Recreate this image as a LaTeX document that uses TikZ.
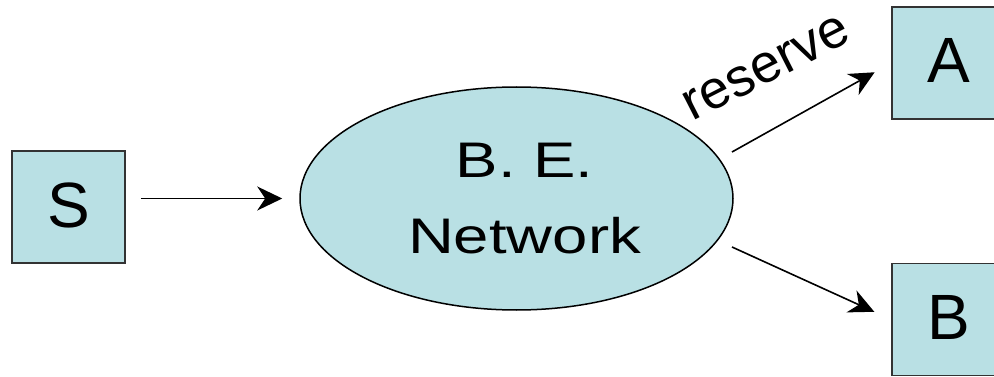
\documentclass[tikz,border=0pt]{standalone}
\usepackage{fontspec}
\setmainfont{Liberation Sans}
\newfontfamily\widefont[FakeStretch=1.27]{Liberation Sans}
\usepackage{tikz}
\usetikzlibrary{calc}
\usetikzlibrary{positioning}
\usetikzlibrary{shapes.geometric}
\usetikzlibrary{arrows.meta}
\definecolor{boxfill}{RGB}{185,224,228}
\tikzstyle{hostnode} = [draw=black!80, line width=1.5pt, fill=boxfill, minimum width=113pt, minimum height=112pt, inner sep=0pt, text height=46pt, text depth=6pt, font=\fontsize{64}{76}\selectfont]
\tikzstyle{netnode} = [draw, ellipse, line width=1.5pt, fill=boxfill, minimum width=433pt, minimum height=223pt, inner sep=0pt, align=center, font=\widefont\fontsize{50}{76}\selectfont]
\tikzstyle{link} = [line width=1.6pt, -{Stealth[length=25pt, width=24pt, inset=8pt]}]

\begin{document}
\begin{tikzpicture}[x=1pt, y=-1pt]
    \clip (0,0) rectangle (994,377);

    \node[netnode] (be_net) at (516.5,198.5) {\hspace*{16pt}B. E.\\\hspace*{16pt}Network};
    \node[hostnode] (host_s) at (68.5,207) {S};
    \node[hostnode] (host_a) at (948.5,63) {A};
    \node[hostnode] (host_b) at (948.5,319.5) {B};

    \coordinate (out_a) at ($(be_net.center)+(215.5,-46.5)$);
    \coordinate (out_b) at ($(be_net.center)+(215.5,48.5)$);

    \draw[link, shorten <=15pt, shorten >=17pt] (host_s.east |- be_net.west) -- (be_net.west);
    \draw[link, shorten >=19pt] (out_a) -- (host_a.west);
    \draw[link, shorten >=18.6pt] (out_b) -- (host_b.west);

    \node[rotate=27, anchor=base, font=\fontsize{54}{60}\selectfont] (reserve_lbl) at (773,81) {reserve};
\end{tikzpicture}
\end{document}
